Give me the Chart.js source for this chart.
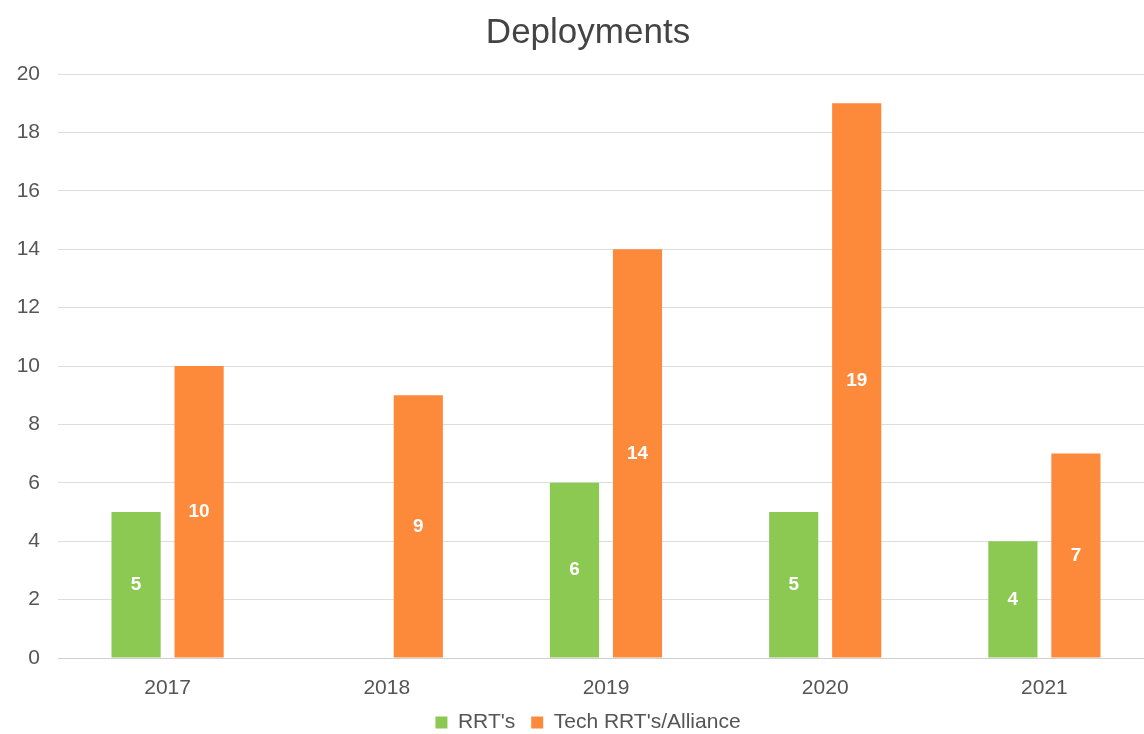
<!DOCTYPE html>
<html>
<head>
<meta charset="utf-8">
<title>Deployments</title>
<script src="https://cdn.jsdelivr.net/npm/chart.js@4.4.0/dist/chart.umd.min.js"></script>
<style>
    html, body { margin: 0; padding: 0; background: #fff; overflow: hidden; }
    .wrap { width: 1144px; height: 734px; overflow: hidden; }
    .wrap canvas { display: block; }
</style>
</head>
<body>
<div class="wrap">
    <canvas id="deployChart" width="1176" height="743" style="width:1176px;height:743px"></canvas>
</div>
<script>
(function() {
    'use strict';

    // Data
    const years = ['2017', '2018', '2019', '2020', '2021'];
    const rrtValues = [5, 0, 6, 5, 4];
    const techValues = [10, 9, 14, 19, 7];
    const seriesNames = ["RRT's", "Tech RRT's/Alliance"];

    const GREEN = '#8cc952';
    const ORANGE = '#fd893b';
    const FONT = "'Liberation Sans', Arial, sans-serif";

    // Value labels in the middle of each bar
    const barLabels = {
        id: 'barLabels',
        afterDatasetsDraw(chart) {
            const ctx = chart.ctx;
            ctx.save();
            ctx.fillStyle = '#ffffff';
            ctx.font = 'bold 19px ' + FONT;
            ctx.textAlign = 'center';
            ctx.textBaseline = 'middle';
            chart.data.datasets.forEach(function(ds, i) {
                chart.getDatasetMeta(i).data.forEach(function(bar, j) {
                    const v = ds.data[j];
                    if (!v) return;
                    ctx.fillText(String(v), bar.x, (bar.y + bar.base) / 2);
                });
            });
            ctx.restore();
        }
    };

    const ctx = document.getElementById('deployChart').getContext('2d');
    new Chart(ctx, {
        type: 'bar',
        data: {
            labels: years,
            datasets: [{
                label: seriesNames[0],
                data: rrtValues,
                backgroundColor: GREEN,
                categoryPercentage: 0.575,
                barPercentage: 0.78
            }, {
                label: seriesNames[1],
                data: techValues,
                backgroundColor: ORANGE,
                categoryPercentage: 0.575,
                barPercentage: 0.78
            }]
        },
        options: {
            responsive: false,
            animation: false,
            layout: {
                padding: { left: 0, right: 0, top: 8, bottom: 0 }
            },
            plugins: {
                title: {
                    display: true,
                    text: 'Deployments',
                    color: '#444',
                    font: { family: FONT, size: 35, weight: 'normal' },
                    padding: { top: 4, bottom: 20 }
                },
                legend: {
                    position: 'bottom',
                    labels: {
                        boxWidth: 12,
                        boxHeight: 12,
                        color: '#555',
                        font: { family: FONT, size: 21 },
                        padding: 16
                    }
                },
                tooltip: { enabled: false }
            },
            scales: {
                x: {
                    grid: { display: false },
                    border: { color: '#cfcfcf' },
                    ticks: {
                        color: '#555',
                        font: { family: FONT, size: 21 },
                        padding: 10
                    },
                    afterFit: function(scale) { scale.height = 38; }
                },
                y: {
                    min: 0,
                    max: 20,
                    border: { display: false },
                    grid: { color: '#dddddd', drawTicks: false },
                    ticks: {
                        stepSize: 2,
                        color: '#555',
                        font: { family: FONT, size: 21 },
                        padding: 18
                    },
                    afterFit: function(scale) { scale.width = 58; }
                },
                // empty right axis, only keeps room on the right side
                yRight: {
                    position: 'right',
                    min: 0,
                    max: 20,
                    border: { display: false },
                    grid: { display: false, drawTicks: false },
                    ticks: { display: false },
                    afterFit: function(scale) { scale.width = 22; }
                }
            }
        },
        plugins: [barLabels]
    });

})();
</script>
</body>
</html>
